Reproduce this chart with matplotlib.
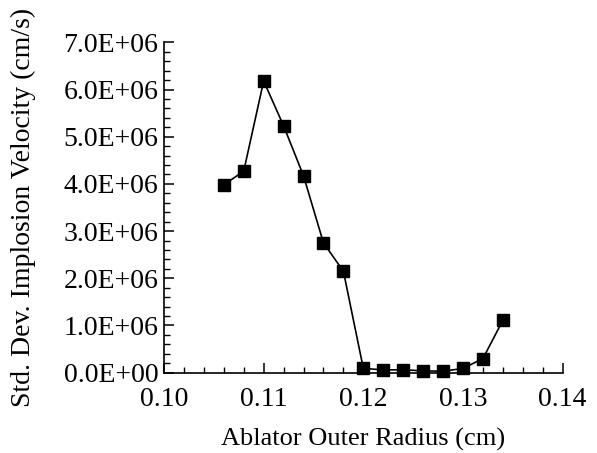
import matplotlib
matplotlib.use("Agg")
import matplotlib.pyplot as plt
from matplotlib.ticker import MultipleLocator, FuncFormatter

radius = [0.106, 0.108, 0.110, 0.112, 0.114, 0.116, 0.118, 0.120, 0.122, 0.124,
          0.126, 0.128, 0.130, 0.132, 0.134]
std_vel = [3.98e6, 4.27e6, 6.18e6, 5.23e6, 4.17e6, 2.75e6, 2.15e6, 0.09e6, 0.06e6,
           0.06e6, 0.04e6, 0.03e6, 0.09e6, 0.30e6, 1.11e6]

plt.rcParams['font.family'] = ['Liberation Serif', 'DejaVu Serif']

fig = plt.figure(figsize=(5.97, 4.53), dpi=100)
ax = fig.add_axes([0.2747, 0.1773, 0.6678, 0.7293])
ax.plot(radius, std_vel, color='black', lw=1.2, marker='s', markersize=8.5, clip_on=False)

ax.set_xlim(0.10, 0.14)
ax.set_ylim(0, 7e6)
ax.xaxis.set_major_locator(MultipleLocator(0.01))
ax.xaxis.set_minor_locator(MultipleLocator(0.002))
ax.yaxis.set_major_locator(MultipleLocator(1e6))
ax.yaxis.set_minor_locator(MultipleLocator(2e5))
ax.xaxis.set_major_formatter(FuncFormatter(lambda v, p: f"{v:.2f}"))
ax.yaxis.set_major_formatter(FuncFormatter(lambda v, p: f"{v:.1E}"))

for s in ['top', 'right']:
    ax.spines[s].set_visible(False)
for s in ['left', 'bottom']:
    ax.spines[s].set_linewidth(1.2)

ax.tick_params(which='major', direction='in', length=7, width=1.1, labelsize=20)
ax.tick_params(axis='x', which='major', pad=10)
ax.tick_params(axis='y', which='major', pad=4)
ax.tick_params(which='minor', direction='in', length=4, width=1.0)

ax.set_xlabel('Ablator Outer Radius (cm)', fontsize=19, labelpad=12)
ax.set_ylabel('Std. Dev. Implosion Velocity (cm/s)', fontsize=20, labelpad=20)

fig.savefig('out.png', dpi=100)
